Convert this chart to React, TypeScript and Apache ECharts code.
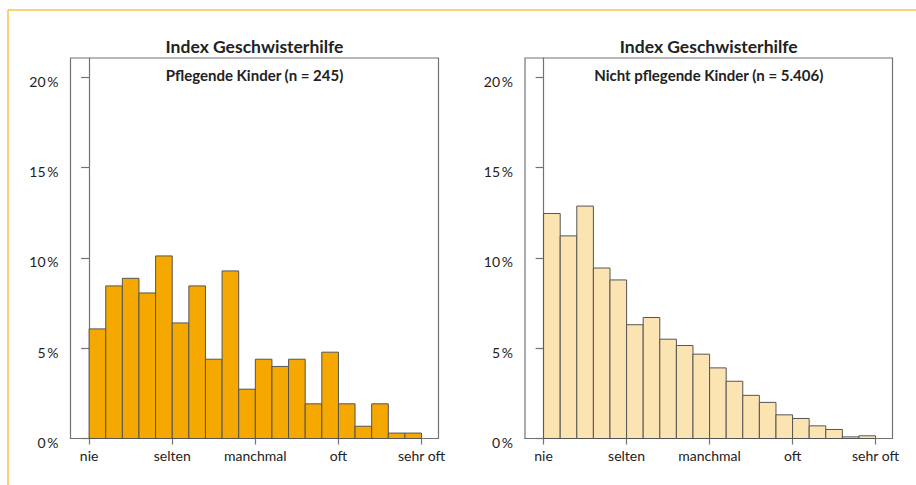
import React, { useEffect, useRef } from "react";
import * as echarts from "echarts";

const categories = ["nie", "selten", "manchmal", "oft", "sehr oft"];
const categoryTickValues = [0, 5, 10, 15, 20];
const percentTicks = [0, 5, 10, 15, 20];

const mainTitle = "Index Geschwisterhilfe";
const leftSubtitle = "Pflegende Kinder (n = 245)";
const rightSubtitle = "Nicht pflegende Kinder (n = 5.406)";

// share of respondents per index bin (percent), 20 bins from "nie" to "sehr oft"
const pflegendeValues = [
  6.07, 8.45, 8.87, 8.06, 10.11, 6.4, 8.45, 4.39, 9.28, 2.73,
  4.39, 3.99, 4.39, 1.92, 4.78, 1.92, 0.68, 1.92, 0.3, 0.3,
];
const nichtPflegendeValues = [
  12.46, 11.22, 12.87, 9.44, 8.78, 6.3, 6.7, 5.5, 5.15, 4.67,
  3.91, 3.17, 2.39, 2.0, 1.31, 1.11, 0.7, 0.5, 0.09, 0.15,
];

const FONT = "Lato";
const TEXT = "#222";
const AXIS = "#737373";

function App() {
  const ref = useRef<HTMLDivElement>(null);

  useEffect(() => {
    if (!ref.current) return;
    const chart = echarts.init(ref.current, undefined, { renderer: "svg" });

    const grids = [
      { left: 70.5, top: 58, width: 368, height: 380.5 },
      { left: 525, top: 58, width: 367.5, height: 380.5 },
    ];

    const xAxis = grids.map((_, gi) => ({
      type: "value",
      gridIndex: gi,
      min: -1.12,
      max: 21.02,
      splitLine: { show: false },
      axisLine: { show: true, lineStyle: { color: AXIS, width: 1.2 } },
      axisTick: {
        show: true,
        length: 6,
        customValues: categoryTickValues,
        lineStyle: { color: AXIS, width: 1.2 },
      },
      axisLabel: {
        customValues: categoryTickValues,
        formatter: (v: number) => categories[categoryTickValues.indexOf(v)] ?? "",
        color: TEXT,
        fontFamily: FONT,
        fontSize: 14,
        margin: 10,
      },
    }));

    const yAxis = grids.map((_, gi) => ({
      type: "value",
      gridIndex: gi,
      min: 0,
      max: 21.07,
      interval: 5,
      splitLine: { show: false },
      axisLine: { show: true, lineStyle: { color: AXIS, width: 1.2 } },
      axisTick: {
        show: true,
        length: 8,
        customValues: percentTicks,
        lineStyle: { color: AXIS, width: 1.2 },
      },
      axisLabel: {
        customValues: percentTicks,
        formatter: (v: number) => `${v}\u2009%`,
        color: TEXT,
        fontFamily: FONT,
        fontSize: 14,
        margin: 12,
        verticalAlign: "top",
        lineHeight: 8,
      },
    }));

    const makeSeries = (values: number[], idx: number, fill: string) => ({
      type: "custom",
      xAxisIndex: idx,
      yAxisIndex: idx,
      encode: { x: 0, y: 1 },
      data: values.map((v, i) => [i, v]),
      renderItem: (_params: any, api: any) => {
        const i = api.value(0);
        const v = api.value(1);
        const p0 = api.coord([i, v]);
        const p1 = api.coord([i + 1, 0]);
        return {
          type: "rect",
          shape: { x: p0[0], y: p0[1], width: p1[0] - p0[0], height: p1[1] - p0[1] },
          style: { fill, stroke: "#555", lineWidth: 1 },
        };
      },
    });

    const centers = grids.map((g) => g.left + g.width / 2);

    chart.setOption({
      animation: false,
      grid: grids.map((g) => ({ ...g, show: true, borderColor: AXIS, borderWidth: 1.2 })),
      xAxis,
      yAxis,
      series: [
        makeSeries(pflegendeValues, 0, "#F5A800"),
        makeSeries(nichtPflegendeValues, 1, "#FCE4B2"),
      ],
      graphic: [
        { type: "line", shape: { x1: 8, y1: 10, x2: 916, y2: 10 }, style: { stroke: "#F8C246", lineWidth: 1.5 } },
        { type: "line", shape: { x1: 8, y1: 10, x2: 8, y2: 485 }, style: { stroke: "#F8C246", lineWidth: 1.5 } },
        ...centers.map((cx) => ({
          type: "text",
          x: cx,
          y: 46,
          style: {
            text: mainTitle,
            align: "center",
            verticalAlign: "middle",
            fontFamily: FONT,
            fontWeight: "bold",
            fontSize: 17.5,
            fill: TEXT,
          },
        })),
        ...[leftSubtitle, rightSubtitle].map((t, i) => ({
          type: "text",
          x: centers[i],
          y: 75,
          style: {
            text: t,
            align: "center",
            verticalAlign: "middle",
            fontFamily: FONT,
            fontWeight: "bold",
            fontSize: 15,
            fill: TEXT,
          },
        })),
      ],
    });

    return () => chart.dispose();
  }, []);

  return (
    <div
      ref={ref}
      style={{ position: "absolute", left: 0, top: 0, width: 916, height: 485, background: "#fff" }}
    />
  );
}

export default App;
